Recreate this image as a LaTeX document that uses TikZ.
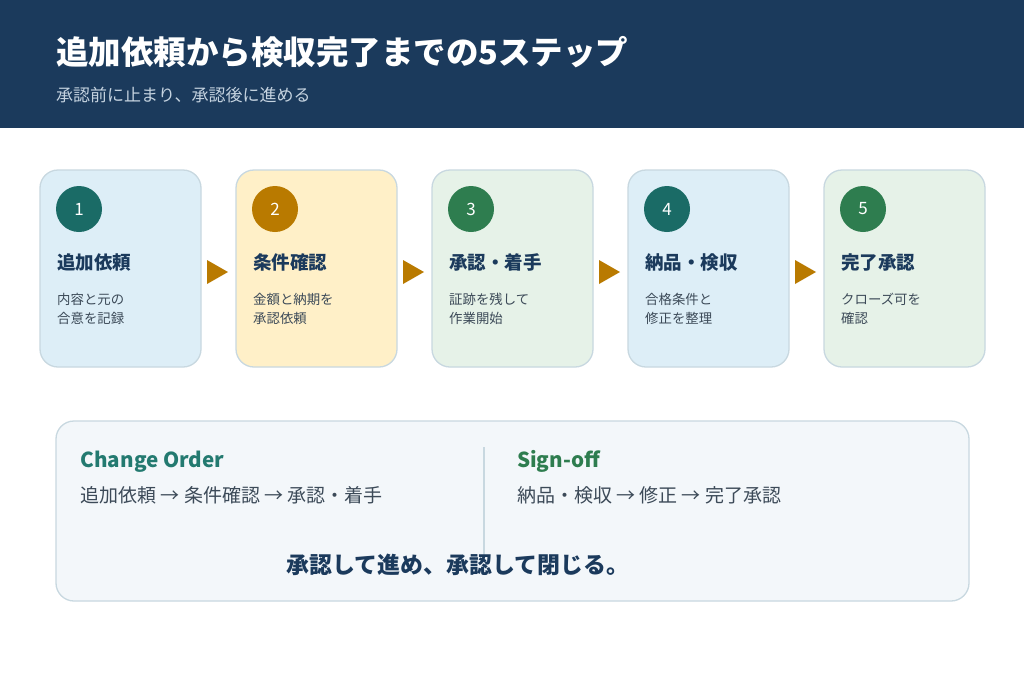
\documentclass[tikz,border=0pt]{standalone}
\usepackage{fontspec}
\setmainfont{Noto Sans CJK JP}
\usetikzlibrary{calc}
\definecolor{navy}{HTML}{1B3A5C}
\definecolor{subt}{HTML}{C5D3E0}
\definecolor{bord}{HTML}{C8D8E0}
\definecolor{fblue}{HTML}{DDEEF7}
\definecolor{fyellow}{HTML}{FFF0C8}
\definecolor{fgreen}{HTML}{E6F2E8}
\definecolor{cteal}{HTML}{1A6B66}
\definecolor{camber}{HTML}{B97A00}
\definecolor{cgreen}{HTML}{2E7D4F}
\definecolor{pfill}{HTML}{F3F7FA}
\definecolor{tgray}{HTML}{3C4A58}
\definecolor{hteal}{HTML}{237A70}
\tikzset{
  card/.style={draw=bord, line width=1.3pt, rounded corners=18pt, minimum width=161pt, minimum height=197pt, inner sep=0pt},
  numc/.style={circle, minimum size=46pt, inner sep=0pt, text=white, font=\fontsize{17}{19}\selectfont},
  ctitle/.style={anchor=base west, inner sep=0pt, text=navy, font=\fontsize{18.5}{22}\selectfont\bfseries},
  cdesc/.style={anchor=base west, inner sep=0pt, text=tgray, font=\fontsize{13.4}{16}\selectfont},
  panel/.style={draw=bord, line width=1.3pt, fill=pfill, rounded corners=18pt, minimum width=913pt, minimum height=180pt, inner sep=0pt},
  phead/.style={anchor=base west, inner sep=0pt, font=\fontsize{20.6}{24}\selectfont\bfseries},
  pline/.style={anchor=base west, inner sep=0pt, text=tgray, font=\fontsize{19}{22}\selectfont},
}
\begin{document}
\begin{tikzpicture}[x=1pt,y=-1pt]
\useasboundingbox (0,0) rectangle (1024,683);
\fill[white] (0,0) rectangle (1024,683);
\fill[navy] (0,0) rectangle (1024,128);
\node[anchor=base west, inner sep=0pt, text=white, font=\fontsize{32.5}{38}\selectfont\bfseries] (title) at (56,64.5) {追加依頼から検収完了までの5ステップ};
\node[anchor=base west, inner sep=0pt, text=subt, font=\fontsize{17}{20}\selectfont] (subtitle) at (56,101.5) {承認前に止まり、承認後に進める};
\foreach \i/\x/\fc/\cc/\ttl/\la/\lb in {
  1/40/fblue/cteal/追加依頼/内容と元の/合意を記録,
  2/236/fyellow/camber/条件確認/金額と納期を/承認依頼,
  3/432/fgreen/cgreen/承認・着手/証跡を残して/作業開始,
  4/628/fblue/cteal/納品・検収/合格条件と/修正を整理,
  5/824/fgreen/cgreen/完了承認/クローズ可を/確認}{
  \node[card, fill=\fc] (c\i) at (\x+80.5,268.5) {};
  \node[numc, fill=\cc] (n\i) at (\x+39,209) {\i};
  \node[ctitle] (t\i) at (\x+17,269) {\ttl};
  \node[cdesc] (d\i) at (\x+17,304) {\la};
  \node[cdesc] (e\i) at (\x+17,323) {\lb};
}
\foreach \i/\j in {1/2,2/3,3/4,4/5}{
  \coordinate (m\i) at ($(c\i.east)!0.5!(c\j.west)$);
  \fill[camber] ($(m\i)+(-11.5,-8.5)$) -- ($(m\i)+(9.5,3.5)$) -- ($(m\i)+(-11.5,15.5)$) -- cycle;
}
\node[panel] (p) at (512.5,511) {};
\coordinate (dvt) at (484,447);
\coordinate (dvb) at (484,555);
\draw[bord, line width=1.5pt] (dvt) -- (dvb);
\node[phead, text=hteal] (h1) at (80.5,467) {Change Order};
\node[phead, text=cgreen] (h2) at (517,467) {Sign-off};
\node[pline] (l1) at (80.5,502) {追加依頼 → 条件確認 → 承認・着手};
\node[pline] (l2) at (517,502) {納品・検収 → 修正 → 完了承認};
\node[anchor=base, inner sep=0pt, text=navy, font=\fontsize{22.9}{27}\selectfont\bfseries] (bt) at (458,573.5) {承認して進め、承認して閉じる。};
\end{tikzpicture}
\end{document}
